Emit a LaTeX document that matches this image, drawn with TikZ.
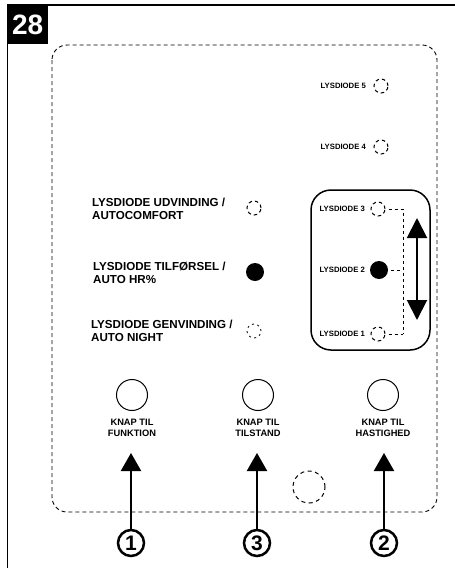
\documentclass[tikz,border=0pt]{standalone}
\usepackage{fontspec}
\setmainfont{Liberation Sans}
\usetikzlibrary{arrows.meta}
\begin{document}
\begin{tikzpicture}[x=1pt,y=-1pt,
  frame/.style={line width=1.5pt},
  panel/.style={line width=0.9pt, dash pattern=on 4pt off 3pt, rounded corners=15pt},
  led/.style={circle, draw, line width=1pt, dash pattern=on 3.5pt off 3pt, minimum size=14pt, inner sep=0pt},
  ledfine/.style={circle, draw, line width=0.8pt, dash pattern=on 2pt off 3.5pt, minimum size=14pt, inner sep=0pt},
  ledon/.style={circle, fill=black, minimum size=18pt, inner sep=0pt},
  bigtxt/.style={font=\bfseries\fontsize{11.6}{12.5}\selectfont, align=left, anchor=west, inner sep=0pt},
  smalltxt/.style={font=\bfseries\fontsize{7.7}{9}\selectfont, anchor=east, inner sep=0pt},
  btntxt/.style={font=\bfseries\fontsize{9.3}{10.5}\selectfont, align=center, inner sep=0pt},
  button/.style={circle, draw, line width=1pt, minimum size=31pt, inner sep=0pt},
  num/.style={circle, draw, line width=2.5pt, minimum size=26pt, inner sep=0pt, font=\bfseries\fontsize{21}{21}\selectfont},
  link/.style={line width=0.8pt, dash pattern=on 3pt off 3pt},
  pusharrow/.style={line width=2pt, -{Triangle[width=20pt,length=18pt]}},
  dblarrow/.style={line width=2pt, {Triangle[width=20pt,length=20pt]}-{Triangle[width=20pt,length=20pt]}}
]
\useasboundingbox (0,0) rectangle (455,568);
\fill[white] (0,0) rectangle (455,568);
% outer frame
\draw[frame] (455,5) -- (7.5,5) -- (7.5,568);
\node[fill=black, text=white, minimum width=40pt, minimum height=39pt, inner sep=0pt, anchor=north west,
  font=\bfseries\fontsize{28}{28}\selectfont] (tag) at (7.5,5) {28};
% dashed panel
\draw[panel] (52,45) rectangle (437,512);
% right LED group box
\draw[line width=1.5pt, rounded corners=20pt] (311,190) rectangle (430,350);

% LEDs 5 and 4
\node[led] (l5) at (381,86) {};
\node[smalltxt] (t5) at (366,86) {LYSDIODE 5};
\node[led] (l4) at (381,147) {};
\node[smalltxt] (t4) at (366,147) {LYSDIODE 4};

% LEDs 3,2,1
\node[led] (l3) at (378,209) {};
\node[smalltxt] (t3) at (365,209) {LYSDIODE 3};
\node[ledon] (l2) at (379,270) {};
\node[smalltxt] (t2) at (365,270) {LYSDIODE 2};
\node[led] (l1) at (378,334) {};
\node[smalltxt] (t1) at (365,334) {LYSDIODE 1};

\coordinate (c3) at (403,209);
\coordinate (c2) at (403,270);
\coordinate (c1) at (403,334);
\draw[link] (l3.east) ++(3pt,0) -- (c3) -- (c1);
\draw[link] (l2.east) ++(3pt,0) -- (c2);
\draw[link] (l1.east) ++(3pt,0) -- (c1);

\coordinate (atop) at (417,218);
\coordinate (abot) at (417,320);
\draw[dblarrow] (atop) -- (abot);

% left LEDs
\node[led] (la) at (254,208) {};
\node[bigtxt] (ta) at (92,209) {LYSDIODE UDVINDING /\\AUTOCOMFORT};
\node[ledon] (lb) at (255,272) {};
\node[bigtxt] (tb) at (93,273) {LYSDIODE TILFØRSEL /\\AUTO HR\%};
\node[ledfine] (lc) at (254,331) {};
\node[bigtxt] (tc) at (91,331) {LYSDIODE GENVINDING /\\AUTO NIGHT};

% buttons
\node[button] (b1) at (132,395) {};
\node[button] (b3) at (258,395) {};
\node[button] (b2) at (383,395) {};
\node[btntxt] (k1) at (132,428) {KNAP TIL\\FUNKTION};
\node[btntxt] (k3) at (258,428) {KNAP TIL\\TILSTAND};
\node[btntxt] (k2) at (383,428) {KNAP TIL\\HASTIGHED};

% hidden sensor
\node[circle, draw, line width=1pt, dash pattern=on 4pt off 3.5pt, minimum size=32pt, inner sep=0pt] (sens) at (309,487) {};

% numbers and arrows
\node[num] (n1) at (131,543) {1};
\node[num] (n3) at (257,543) {3};
\node[num] (n2) at (384,543) {2};
\coordinate (p1) at (131,453);
\coordinate (p3) at (257,453);
\coordinate (p2) at (384,453);
\draw[pusharrow] (n1.north) -- (p1);
\draw[pusharrow] (n3.north) -- (p3);
\draw[pusharrow] (n2.north) -- (p2);
\end{tikzpicture}
\end{document}
